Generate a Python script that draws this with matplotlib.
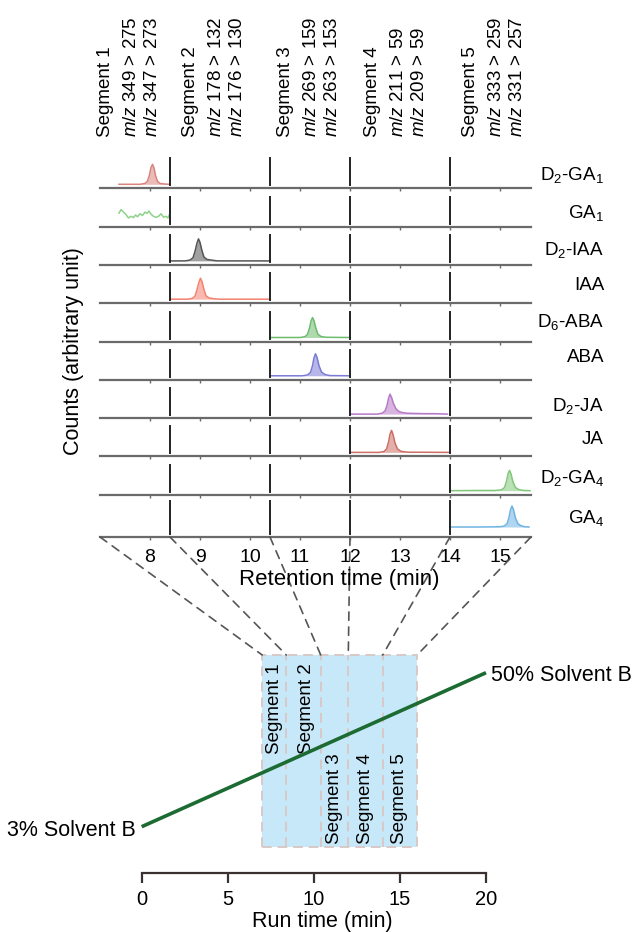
import matplotlib
matplotlib.use('Agg')
import matplotlib.pyplot as plt
import matplotlib.transforms as mtransforms
from matplotlib.patches import Rectangle, ConnectionPatch

plt.rcParams['font.family'] = ['Liberation Sans', 'DejaVu Sans']
plt.rcParams['mathtext.fontset'] = 'custom'
plt.rcParams['mathtext.rm'] = 'Liberation Sans'
plt.rcParams['mathtext.it'] = 'Liberation Sans:italic'
plt.rcParams['mathtext.bf'] = 'Liberation Sans:bold'

# ---------------- data ----------------
compounds = ['D$_2$-GA$_1$', 'GA$_1$', 'D$_2$-IAA', 'IAA', 'D$_6$-ABA',
             'ABA', 'D$_2$-JA', 'JA', 'D$_2$-GA$_4$', 'GA$_4$']
colors = ['#d9837d', '#8fd18a', '#555555', '#f4826f', '#6dbb6d',
          '#7b7bd6', '#b678c8', '#cd6e66', '#82c77a', '#6fb3e3']
filled = [True, False, True, True, True, True, True, True, True, True]

segment_names = ['Segment 1', 'Segment 2', 'Segment 3', 'Segment 4', 'Segment 5']
segment_bounds = [7.0, 8.4, 10.4, 12.0, 14.0, 16.0]
transitions_1 = ['349 > 275', '178 > 132', '269 > 159', '211 > 59', '333 > 259']
transitions_2 = ['347 > 273', '176 > 130', '263 > 153', '209 > 59', '331 > 257']
top_label_x = [7.11, 8.81, 10.71, 12.44, 14.41]
box_label_x = [7.72, 9.6, 11.22, 12.98, 15.0]

rt_ticks = [8, 9, 10, 11, 12, 13, 14, 15]
run_ticks = [0, 5, 10, 15, 20]
gradient_time = [0, 20]
gradient_pct = [3, 50]

d2ga1_t = [7.38, 7.80, 7.90, 7.95, 7.99, 8.02, 8.05, 8.08, 8.11, 8.15, 8.20, 8.30, 8.40]
d2ga1_y = [0.00, 0.00, 0.04, 0.15, 0.45, 0.80, 0.95, 0.78, 0.42, 0.14, 0.04, 0.01, 0.00]

ga1_t = [7.38, 7.42, 7.47, 7.52, 7.57, 7.62, 7.67, 7.71, 7.75, 7.80, 7.85, 7.90,
         7.94, 7.98, 8.02, 8.07, 8.12, 8.17, 8.22, 8.27, 8.32, 8.36, 8.40]
ga1_y = [0.45, 0.62, 0.50, 0.38, 0.22, 0.30, 0.24, 0.36, 0.28, 0.42, 0.34, 0.50,
         0.44, 0.55, 0.40, 0.30, 0.25, 0.30, 0.42, 0.26, 0.30, 0.22, 0.45]

d2iaa_t = [8.40, 8.70, 8.80, 8.86, 8.90, 8.94, 8.97, 9.00, 9.04, 9.08, 9.14, 9.25, 9.35, 10.40]
d2iaa_y = [0.00, 0.00, 0.04, 0.15, 0.45, 0.85, 1.05, 0.88, 0.48, 0.18, 0.07, 0.03, 0.00, 0.00]

iaa_t = [8.40, 8.75, 8.85, 8.90, 8.94, 8.98, 9.01, 9.04, 9.08, 9.12, 9.18, 9.28, 9.40, 10.40]
iaa_y = [0.00, 0.00, 0.04, 0.15, 0.45, 0.82, 1.00, 0.84, 0.45, 0.16, 0.06, 0.02, 0.00, 0.00]

d6aba_t = [10.40, 11.00, 11.10, 11.15, 11.19, 11.22, 11.25, 11.28, 11.32, 11.36, 11.42, 11.52, 12.00]
d6aba_y = [0.00, 0.00, 0.04, 0.15, 0.45, 0.78, 0.95, 0.80, 0.42, 0.15, 0.05, 0.01, 0.00]

aba_t = [10.40, 11.05, 11.15, 11.21, 11.25, 11.28, 11.31, 11.34, 11.38, 11.43, 11.50, 11.60, 12.00]
aba_y = [0.00, 0.00, 0.04, 0.16, 0.48, 0.86, 1.05, 0.88, 0.48, 0.18, 0.06, 0.01, 0.00]

d2ja_t = [12.00, 12.55, 12.65, 12.70, 12.74, 12.77, 12.80, 12.83, 12.87, 12.92, 12.98,
          13.05, 13.15, 13.30, 13.50, 13.70, 13.95]
d2ja_y = [0.00, 0.00, 0.05, 0.15, 0.40, 0.75, 0.95, 0.80, 0.50, 0.25, 0.12,
          0.07, 0.04, 0.03, 0.02, 0.02, 0.00]

ja_t = [12.00, 12.58, 12.68, 12.73, 12.77, 12.80, 12.83, 12.86, 12.90, 12.95, 13.02, 13.15, 14.00]
ja_y = [0.00, 0.00, 0.04, 0.16, 0.48, 0.86, 1.05, 0.86, 0.45, 0.16, 0.05, 0.01, 0.00]

d2ga4_t = [14.00, 14.50, 14.90, 15.03, 15.09, 15.13, 15.16, 15.19, 15.22, 15.26, 15.31, 15.38, 15.48, 15.60]
d2ga4_y = [0.00, 0.01, 0.01, 0.04, 0.15, 0.45, 0.80, 0.97, 0.80, 0.42, 0.15, 0.05, 0.01, 0.00]

ga4_t = [14.00, 14.60, 14.98, 15.08, 15.14, 15.18, 15.21, 15.24, 15.27, 15.31, 15.36, 15.43, 15.50, 15.58]
ga4_y = [0.00, 0.00, 0.01, 0.04, 0.15, 0.45, 0.82, 1.00, 0.82, 0.42, 0.15, 0.05, 0.01, 0.00]

traces_t = [d2ga1_t, ga1_t, d2iaa_t, iaa_t, d6aba_t, aba_t, d2ja_t, ja_t, d2ga4_t, ga4_t]
traces_y = [d2ga1_y, ga1_y, d2iaa_y, iaa_y, d6aba_y, aba_y, d2ja_y, ja_y, d2ga4_y, ga4_y]

# ---------------- layout (pixels) ----------------
W, H = 633, 932
fig = plt.figure(figsize=(W / 100, H / 100), dpi=100)

def fx(px):
    return px / W

def fy(py):
    return 1 - py / H

row_lines = [188.3, 226.6, 264.9, 303.2, 341.5, 379.8, 418.1, 456.4, 494.7, 537.0]
row_label_y = [175, 213, 250, 286, 322, 358, 406, 440, 478, 518]
left_px, right_px = 100, 531
unit_px = 21.0  # px per intensity unit
axis_gray = '#6a6a6a'
xlim_top = (7.0, 15.62)

row_axes = []
for i in range(10):
    bottom = row_lines[i]
    top = row_lines[i] - 38.3 if i < 9 else row_lines[8]
    h_px = bottom - top
    base_off = 4.0 if i < 9 else 10.0
    ax = fig.add_axes([fx(left_px), fy(bottom), fx(right_px - left_px), h_px / H])
    ax.set_xlim(*xlim_top)
    ylo = -base_off / unit_px
    ax.set_ylim(ylo, ylo + h_px / unit_px)
    for s in ['top', 'left', 'right']:
        ax.spines[s].set_visible(False)
    ax.spines['bottom'].set_color(axis_gray)
    ax.spines['bottom'].set_linewidth(1.6)
    ax.set_yticks([])
    ax.set_xticks(rt_ticks)
    ax.tick_params(axis='x', direction='out', length=2.5, width=1.0, color=axis_gray,
                   labelsize=14, pad=6, labelbottom=(i == 9))
    ax.patch.set_visible(False)

    # segment separators
    sep_lo = 3.0 / h_px
    sep_hi = (base_off + 26.0) / h_px
    for b in segment_bounds[1:5]:
        ax.axvline(b, ymin=sep_lo, ymax=sep_hi, color='#222222', lw=1.4, zorder=3)

    t, y = traces_t[i], traces_y[i]
    if filled[i]:
        ax.fill_between(t, 0, y, color=colors[i], alpha=0.55, lw=0, zorder=2)
    ax.plot(t, y, color=colors[i], lw=1.1, zorder=2)

    fig.text(fx(604), fy(row_label_y[i]), compounds[i], ha='right', va='center', fontsize=13.5)
    row_axes.append(ax)

ax0 = row_axes[0]
ax_last = row_axes[-1]

# top segment / transition labels
trans = mtransforms.blended_transform_factory(ax0.transData, fig.transFigure)
for k in range(5):
    ax0.text(top_label_x[k], fy(137), segment_names[k], rotation=90, ha='center', va='bottom',
             fontsize=13.5, transform=trans, clip_on=False)
    t1 = mtransforms.offset_copy(trans, fig=fig, x=26, y=0, units='dots')
    t2 = mtransforms.offset_copy(trans, fig=fig, x=47, y=0, units='dots')
    ax0.text(top_label_x[k], fy(137), '$m/z$ ' + transitions_1[k], rotation=90, ha='center',
             va='bottom', fontsize=13.5, transform=t1, clip_on=False)
    ax0.text(top_label_x[k], fy(137), '$m/z$ ' + transitions_2[k], rotation=90, ha='center',
             va='bottom', fontsize=13.5, transform=t2, clip_on=False)

fig.text(fx(74), fy(351.5), 'Counts (arbitrary unit)', rotation=90, ha='center', va='center',
         fontsize=15.5)
fig.text(fx(339), fy(580), 'Retention time (min)', ha='center', va='center', fontsize=16)

# ---------------- bottom panel ----------------
b_left, b_right, b_top, b_bottom = 141.7, 486.0, 655.0, 872.7
px_per_pct = (826.7 - 672.7) / 47.0
ax_b = fig.add_axes([fx(b_left), fy(b_bottom), fx(b_right - b_left), (b_bottom - b_top) / H])
ax_b.set_xlim(0, 20)
y_top = 50 + (672.7 - b_top) / px_per_pct
y_bot = 3 - (b_bottom - 826.7) / px_per_pct
ax_b.set_ylim(y_bot, y_top)
for s in ['top', 'left', 'right']:
    ax_b.spines[s].set_visible(False)
ax_b.spines['bottom'].set_color('#3b3131')
ax_b.spines['bottom'].set_linewidth(1.6)
ax_b.set_yticks([])
ax_b.set_xticks(run_ticks)
ax_b.tick_params(axis='x', direction='out', length=7.2, width=1.6, color='#3b3131',
                 labelsize=14.5, pad=5)
ax_b.patch.set_visible(False)

box_bottom = 3 - (846.7 - 826.7) / px_per_pct
box_edge = '#d8c9c6'
ax_b.add_patch(Rectangle((segment_bounds[0], box_bottom), segment_bounds[-1] - segment_bounds[0],
                         y_top - box_bottom, facecolor='#c7e8f8', edgecolor=box_edge,
                         lw=1.4, ls=(0, (5, 3)), zorder=1, clip_on=False))
for b in segment_bounds[1:5]:
    ax_b.plot([b, b], [box_bottom, y_top], color=box_edge, lw=1.4, ls=(0, (5, 3)), zorder=1.5,
              clip_on=False)

for k in range(5):
    if k < 2:
        ax_b.text(box_label_x[k], 50 + (672.7 - 663) / px_per_pct, segment_names[k], rotation=90,
                  ha='center', va='top', fontsize=13.5, zorder=4)
    else:
        ax_b.text(box_label_x[k], 3 - (844 - 826.7) / px_per_pct, segment_names[k], rotation=90,
                  ha='center', va='bottom', fontsize=13.5, zorder=4)

ax_b.plot(gradient_time, gradient_pct, color='#1b6b32', lw=2.6, zorder=5, clip_on=False,
          solid_capstyle='butt')
ax_b.annotate(f'{gradient_pct[0]}% Solvent B', (gradient_time[0], gradient_pct[0]),
              xytext=(-6, -4), textcoords='offset pixels', ha='right', va='center', fontsize=15.5)
ax_b.annotate(f'{gradient_pct[1]}% Solvent B', (gradient_time[1], gradient_pct[1]),
              xytext=(5, -3), textcoords='offset pixels', ha='left', va='center', fontsize=15.5)

fig.text(fx(322), fy(922), 'Run time (min)', ha='center', va='center', fontsize=15.5)

# connectors
for b in segment_bounds:
    xa = min(max(b, xlim_top[0]), xlim_top[1])
    con = ConnectionPatch(xyA=(xa, ax_last.get_ylim()[0]), coordsA=ax_last.transData,
                          xyB=(b, y_top), coordsB=ax_b.transData,
                          color='#555555', lw=1.2, ls=(0, (5, 4)))
    fig.add_artist(con)

fig.savefig('out.png', dpi=100)
